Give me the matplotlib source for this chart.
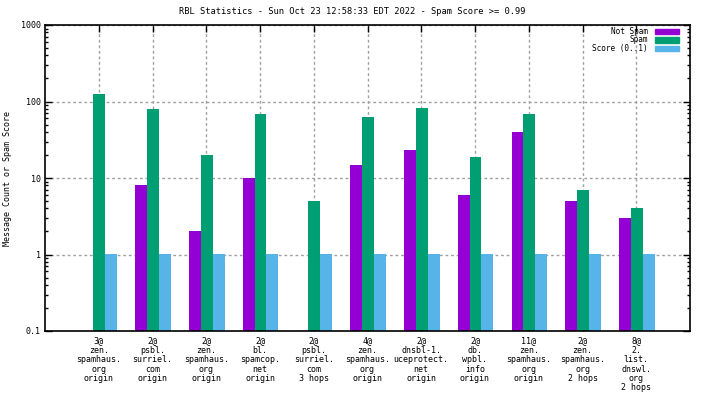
import numpy as np
import matplotlib.pyplot as plt
from matplotlib.patches import Rectangle
from matplotlib.ticker import NullFormatter, LogLocator

plt.rcParams['font.family'] = 'DejaVu Sans Mono'

# data
categories = [
    "3@\nzen.\nspamhaus.\norg\norigin",
    "2@\npsbl.\nsurriel.\ncom\norigin",
    "2@\nzen.\nspamhaus.\norg\norigin",
    "2@\nbl.\nspamcop.\nnet\norigin",
    "2@\npsbl.\nsurriel.\ncom\n3 hops",
    "4@\nzen.\nspamhaus.\norg\norigin",
    "2@\ndnsbl-1.\nuceprotect.\nnet\norigin",
    "2@\ndb.\nwpbl.\ninfo\norigin",
    "11@\nzen.\nspamhaus.\norg\norigin",
    "2@\nzen.\nspamhaus.\norg\n2 hops",
    "8@\n2.\nlist.\ndnswl.\norg\n2 hops",
]
not_spam = [0, 8, 2, 10, 0, 15, 23, 6, 40, 5, 3]
spam = [126, 80, 20, 69, 5, 63, 83, 19, 69, 7, 4]
score = [1, 1, 1, 1, 1, 1, 1, 1, 1, 1, 1]
series_names = ["Not Spam", "Spam", "Score (0..1)"]
colors = ["#9400d3", "#009e73", "#56b4e9"]

W, H = 704, 396
fig = plt.figure(figsize=(W / 100, H / 100), dpi=100)
ax = fig.add_axes([45 / W, (H - 331) / H, 645 / W, 306 / H])

x = np.arange(len(categories))
bw = 0.22
for off, vals, c in zip([-bw, 0, bw], [not_spam, spam, score], colors):
    v = np.array(vals, dtype=float)
    v[v <= 0] = np.nan
    ax.bar(x + off + 0.01, v, width=bw, color=c, bottom=0.01, zorder=2)

ax.set_yscale('log')
ax.set_ylim(0.1, 1000)
ax.set_xlim(-1, 11)

ax.set_xticks(x)
ax.set_xticklabels(categories, fontsize=6, linespacing=1.05)
ax.set_yticks([0.1, 1, 10, 100, 1000])
ax.set_yticklabels(["0.1", "1", "10", "100", "1000"], fontsize=6)
ax.yaxis.set_minor_locator(LogLocator(base=10, subs=np.arange(2, 10)))
ax.yaxis.set_minor_formatter(NullFormatter())

ax.tick_params(axis='both', which='major', direction='in', length=5, width=1,
               top=True, right=True, pad=3)
ax.tick_params(axis='y', which='minor', direction='in', length=2.5, width=1,
               right=True)
ax.tick_params(axis='x', which='both', pad=4)

ax.grid(True, which='major', color='#a0a0a0', linestyle=(0, (2, 2)), linewidth=1)
ax.set_axisbelow(True)
for s in ax.spines.values():
    s.set_linewidth(1.2)

fig.text(0.5, 1 - 12 / H, "RBL Statistics - Sun Oct 23 12:58:33 EDT 2022 - Spam Score >= 0.99",
         ha='center', va='center', fontsize=6.3)
fig.text(8 / W, 1 - 178 / H, "Message Count or Spam Score", rotation=90,
         ha='center', va='center', fontsize=6)

# legend in gnuplot style: right-aligned text, sample box to the right
for i, (name, c) in enumerate(zip(series_names, colors)):
    yc = 31.5 + 8.5 * i
    fig.text(648 / W, 1 - yc / H, name, ha='right', va='center', fontsize=5.6)
    fig.add_artist(Rectangle((655 / W, 1 - (yc + 2.5) / H), 24 / W, 5 / H,
                             transform=fig.transFigure, color=c))

fig.savefig("out.png", dpi=100)
